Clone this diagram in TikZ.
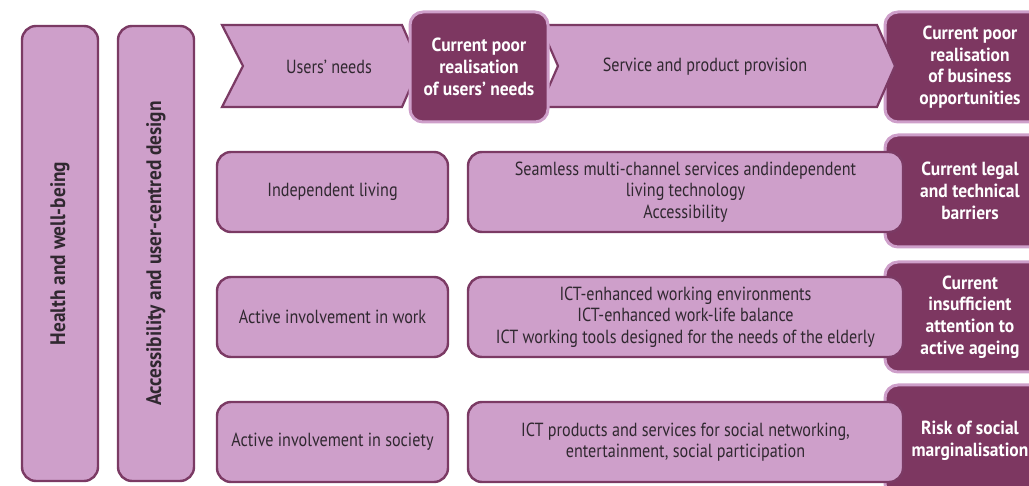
\documentclass[tikz,border=0pt]{standalone}
\usepackage{fontspec}
\setmainfont{PT Sans}[FakeStretch=0.85, BoldFeatures={FakeStretch=0.92}]
\definecolor{lightp}{HTML}{CE9FCA}
\definecolor{darkb}{HTML}{7B3A64}
\definecolor{darkf}{HTML}{7D3761}
\definecolor{txt}{HTML}{302830}
\begin{document}
\begin{tikzpicture}[x=1pt,y=-1pt,
  lbox/.style={fill=lightp, draw=darkb, line width=2.4pt, rounded corners=14pt,
    text=txt, font=\fontsize{19}{21.7}\selectfont, align=center, inner sep=0pt},
  vbar/.style={lbox, rotate=90, font=\bfseries\fontsize{21}{24}\selectfont},
  dbox/.style={fill=darkf, draw=lightp, line width=3pt, rounded corners=13pt,
    text=white, font=\bfseries\fontsize{19}{21.7}\selectfont, align=center, inner sep=0pt},
  chev/.style={fill=lightp, draw=darkb, line width=2.2pt, line join=miter},
  ctext/.style={text=txt, font=\fontsize{19}{21.7}\selectfont, align=center}]
\useasboundingbox (0,0) rectangle (1029,486);
\clip (0,0) rectangle (1029,486);

% vertical bars
\node[vbar, minimum width=455pt, minimum height=76pt] (hw) at (60,253.5) {Health and well-being};
\node[vbar, minimum width=455pt, minimum height=76pt] (acc) at (156,253.5) {Accessibility and user-centred design};

% top right dark box
\node[dbox, minimum width=170pt, minimum height=110pt] (biz) at (970,67) {Current poor\\realisation\\of business\\opportunities};

% chevrons
\draw[chev] (222,25) -- (402,25) -- (420,66) -- (402,107) -- (222,107) -- (243,66) -- cycle;
\node[ctext] (un) at (329,67) {Users’ needs};
\draw[chev] (540,25) -- (877,25) -- (895,66) -- (877,107) -- (540,107) -- (558,66) -- cycle;
\node[ctext] (spp) at (705,67) {Service and product provision};

\node[dbox, minimum width=138pt, minimum height=110pt] (poor) at (479,67) {Current poor\\realisation\\of users’ needs};

% right dark boxes
\node[dbox, minimum width=170pt, minimum height=112pt] (legal) at (970,191) {Current legal\\and technical\\barriers};
\node[dbox, minimum width=170pt, minimum height=110pt] (ageing) at (970,317) {Current\\insufficient\\attention to\\active ageing};
\node[dbox, minimum width=170pt, minimum height=112pt] (risk) at (970,441) {Risk of social\\marginalisation};

% left row boxes
\node[lbox, minimum width=231pt, minimum height=80pt] (il) at (332.5,192) {Independent living};
\node[lbox, minimum width=231pt, minimum height=80pt] (aw) at (332.5,317) {Active involvement in work};
\node[lbox, minimum width=231pt, minimum height=80pt] (as) at (332.5,442) {Active involvement in society};

% middle boxes
\node[lbox, minimum width=435pt, minimum height=80pt] (m1) at (685.5,192) {Seamless multi-channel services andindependent\\living technology\\Accessibility};
\node[lbox, minimum width=435pt, minimum height=80pt] (m2) at (685.5,317) {ICT-enhanced working environments\\ICT-enhanced work-life balance\\ICT working tools designed for the needs of the elderly};
\node[lbox, minimum width=435pt, minimum height=80pt] (m3) at (685.5,442) {ICT products and services for social networking,\\entertainment, social participation};
\end{tikzpicture}
\end{document}
